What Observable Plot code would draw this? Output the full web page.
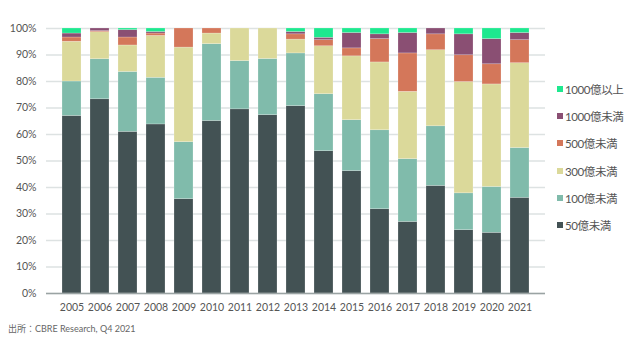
<!DOCTYPE html>
<html>
<head>
<meta charset="utf-8">
<script src="https://cdn.jsdelivr.net/npm/d3@7"></script>
<script src="https://cdn.jsdelivr.net/npm/@observablehq/plot@0.6"></script>
<style>
  body { margin: 0; background: #fff; font-family: Lato, "Noto Sans CJK JP", sans-serif; }
  #wrap { position: relative; width: 632px; height: 350px; }
  #legend { position: absolute; left: 557px; top: 81px; font-size: 11.5px; color: #555; }
  #legend .item { height: 27.2px; display: flex; align-items: flex-start; white-space: nowrap; letter-spacing: -0.4px; }
  #legend .sw { width: 6px; height: 6px; margin-right: 2px; margin-top: 5px; }
  #caption { position: absolute; left: 8px; top: 322px; font-size: 9px; color: #666; }
</style>
</head>
<body>
<div id="wrap">
  <div id="chart"></div>
  <div id="legend"></div>
  <div id="caption">出所：CBRE Research, Q4 2021</div>
</div>
<script>
const years = ["2005","2006","2007","2008","2009","2010","2011","2012","2013","2014","2015","2016","2017","2018","2019","2020","2021"];
const categories = ["50億未満","100億未満","300億未満","500億未満","1000億未満","1000億以上"];
const colors = ["#435254","#80bbab","#dbd99a","#d4775a","#8a4f73","#1ee88f"];

const under50   = [67.0,73.3,61.0,63.8,35.6,65.1,69.5,67.3,70.7,53.7,46.2,31.8,27.0,40.6,23.9,22.9,36.1];
const under100  = [13.0,15.1,22.6,17.6,21.5,29.0,18.2,21.2,19.9,21.5,19.2,29.8,23.7,22.5,13.9,17.3,18.8];
const under300  = [15.0,10.2,10.0,15.8,35.7, 4.0,12.3,11.5, 5.2,18.1,24.1,25.6,25.4,28.7,42.0,38.7,32.0];
const under500  = [ 1.6, 0.4, 3.0, 0.9, 7.2, 1.9, 0.0, 0.0, 2.0, 2.3, 3.0, 8.8,14.5, 6.0,10.1, 7.6, 8.7];
const under1000 = [ 1.5, 1.0, 2.8, 0.6, 0.0, 0.0, 0.0, 0.0, 0.9, 0.9, 5.8, 1.8, 7.7, 2.2, 7.9, 9.5, 2.7];
const over1000  = [ 1.9, 0.0, 0.6, 1.3, 0.0, 0.0, 0.0, 0.0, 1.3, 3.5, 1.7, 2.2, 1.7, 0.0, 2.2, 4.0, 1.7];
const yTicks = [0,10,20,30,40,50,60,70,80,90,100];

const series = [under50, under100, under300, under500, under1000, over1000];
const rows = [];
years.forEach((y, i) => categories.forEach((c, j) => rows.push({year: y, cat: c, value: series[j][i]})));

const chart = Plot.plot({
  width: 632,
  height: 317,
  marginLeft: 46,
  marginRight: 87,
  marginTop: 28,
  marginBottom: 24,
  style: {fontFamily: 'Lato, "Noto Sans CJK JP", sans-serif', fontSize: "10.5px", color: "#555"},
  x: {domain: years, label: null, padding: 0.31, tickSize: 0, tickPadding: 10},
  y: {domain: [0, 100], label: null, ticks: yTicks, tickSize: 0, tickPadding: 10, tickFormat: d => d + "%"},
  color: {domain: categories, range: colors},
  marks: [
    Plot.gridY(yTicks, {stroke: "#dde2e2", strokeOpacity: 1, strokeWidth: 1.5}),
    Plot.barY(rows, Plot.stackY({order: categories}, {x: "year", y: "value", fill: "cat", stroke: "#fff", strokeOpacity: 0.35, strokeWidth: 0.6})),
    Plot.ruleY([0], {stroke: "#9aa3a3", strokeWidth: 1.5})
  ]
});
document.getElementById("chart").appendChild(chart);

const legend = document.getElementById("legend");
for (let j = categories.length - 1; j >= 0; j--) {
  const it = document.createElement("div");
  it.className = "item";
  const sw = document.createElement("div");
  sw.className = "sw";
  sw.style.background = colors[j];
  const t = document.createElement("span");
  t.textContent = categories[j];
  it.appendChild(sw);
  it.appendChild(t);
  legend.appendChild(it);
}
</script>
</body>
</html>
